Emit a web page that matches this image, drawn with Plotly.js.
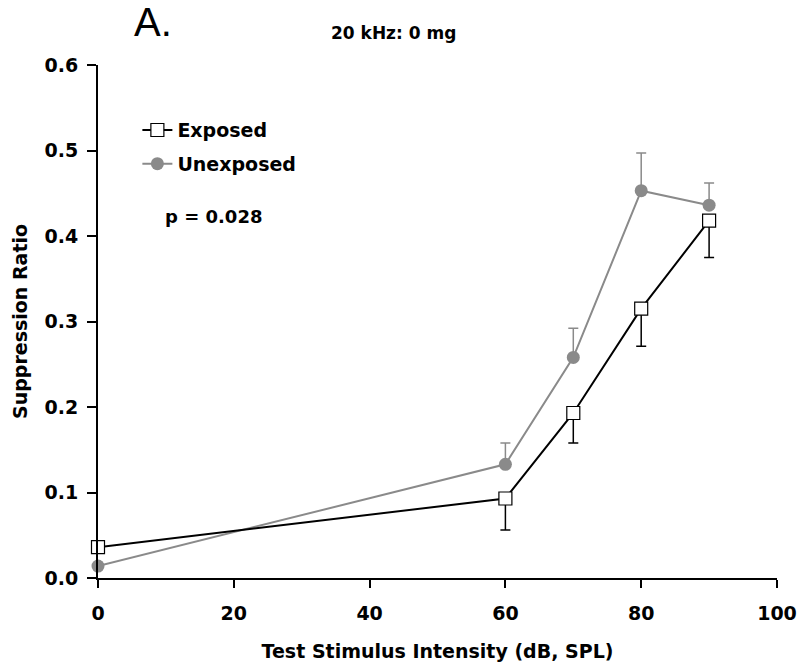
<!DOCTYPE html>
<html>
<head>
<meta charset="utf-8">
<script src="https://cdn.plot.ly/plotly-3.0.1.min.js"></script>
<style>html,body{margin:0;padding:0;background:#fff;}#chart{width:799px;height:668px;}</style>
</head>
<body>
<div id="chart"></div>
<script>
const intensity = [0, 60, 70, 80, 90];
const exposedMean = [0.036, 0.093, 0.193, 0.315, 0.418];
const exposedErr = [0.005, 0.037, 0.035, 0.044, 0.043];
const unexposedMean = [0.014, 0.133, 0.258, 0.453, 0.436];
const unexposedErr = [0.004, 0.025, 0.034, 0.044, 0.026];
const zeros = [0, 0, 0, 0, 0];
const xTicks = [0, 20, 40, 60, 80, 100];
const yTicks = [0, 0.1, 0.2, 0.3, 0.4, 0.5, 0.6];

const FONT = 'DejaVu Sans, sans-serif';
const AFONT = 'Liberation Sans, Arial, sans-serif';
const GRAY = '#8a8a8a';
const FS = 19;

const traces = [
  {
    x: intensity, y: unexposedMean, name: '<b>Unexposed</b>', type: 'scatter', mode: 'lines+markers',
    line: {color: GRAY, width: 2},
    marker: {symbol: 'circle', size: 13, color: GRAY},
    error_y: {type: 'data', symmetric: false, array: unexposedErr, arrayminus: zeros, color: GRAY, thickness: 1.5, width: 5},
    cliponaxis: false, legendgroup: 'b', legendrank: 2
  },
  {
    x: intensity, y: exposedMean, name: '<b>Exposed</b>', type: 'scatter', mode: 'lines+markers',
    line: {color: '#000', width: 2},
    marker: {symbol: 'square', size: 13, color: '#fff', line: {color: '#000', width: 1.2}},
    error_y: {type: 'data', symmetric: false, array: zeros, arrayminus: exposedErr, color: '#000', thickness: 1.5, width: 5},
    cliponaxis: false, legendgroup: 'a', legendrank: 1
  }
];

const layout = {
  width: 799, height: 668,
  margin: {l: 98, r: 22, t: 65, b: 90},
  paper_bgcolor: '#fff', plot_bgcolor: '#fff',
  font: {family: FONT, color: '#000', size: FS},
  showlegend: true,
  legend: {x: 0.058, y: 0.91, xanchor: 'left', yanchor: 'top', font: {size: FS, family: FONT}, traceorder: 'grouped', tracegroupgap: 6, itemwidth: 30, bgcolor: 'rgba(0,0,0,0)'},
  xaxis: {
    range: [0, 100], tickvals: xTicks, ticktext: xTicks.map(v => '<b>' + v + '</b>'),
    showline: true, linecolor: '#000', linewidth: 2, ticks: 'outside', ticklen: 8, tickwidth: 2, tickcolor: '#000',
    showgrid: false, zeroline: false, tickfont: {size: FS, family: FONT}, ticklabelstandoff: 9,
    title: {text: '<b>Test Stimulus Intensity (dB, SPL)</b>', font: {size: FS, family: FONT}, standoff: 22}
  },
  yaxis: {
    range: [0, 0.6], tickvals: yTicks, ticktext: yTicks.map(v => '<b>' + v.toFixed(1) + '</b>'),
    showline: true, linecolor: '#000', linewidth: 2, ticks: 'outside', ticklen: 9, tickwidth: 2, tickcolor: '#000',
    showgrid: false, zeroline: false, tickfont: {size: FS, family: FONT}, ticklabelstandoff: 5,
    title: {text: '<b>Suppression Ratio</b>', font: {size: FS, family: FONT}, standoff: 12}
  },
  annotations: [
    {text: 'A.', xref: 'paper', yref: 'paper', x: (153 - 98) / 679, y: 1, xanchor: 'center', yanchor: 'bottom', yshift: 19, showarrow: false, font: {size: 40, family: AFONT}},
    {text: '<b>20 kHz: 0 mg</b>', xref: 'paper', yref: 'paper', x: (393 - 98) / 679, y: 1, xanchor: 'center', yanchor: 'bottom', yshift: 20, showarrow: false, font: {size: 17, family: FONT}},
    {text: '<b>p = 0.028</b>', xref: 'x', yref: 'y', x: 9.6, y: 0.423, xanchor: 'left', yanchor: 'middle', showarrow: false, font: {size: 18, family: FONT}}
  ]
};

Plotly.newPlot('chart', traces, layout, {displayModeBar: false, staticPlot: true});
</script>
</body>
</html>
